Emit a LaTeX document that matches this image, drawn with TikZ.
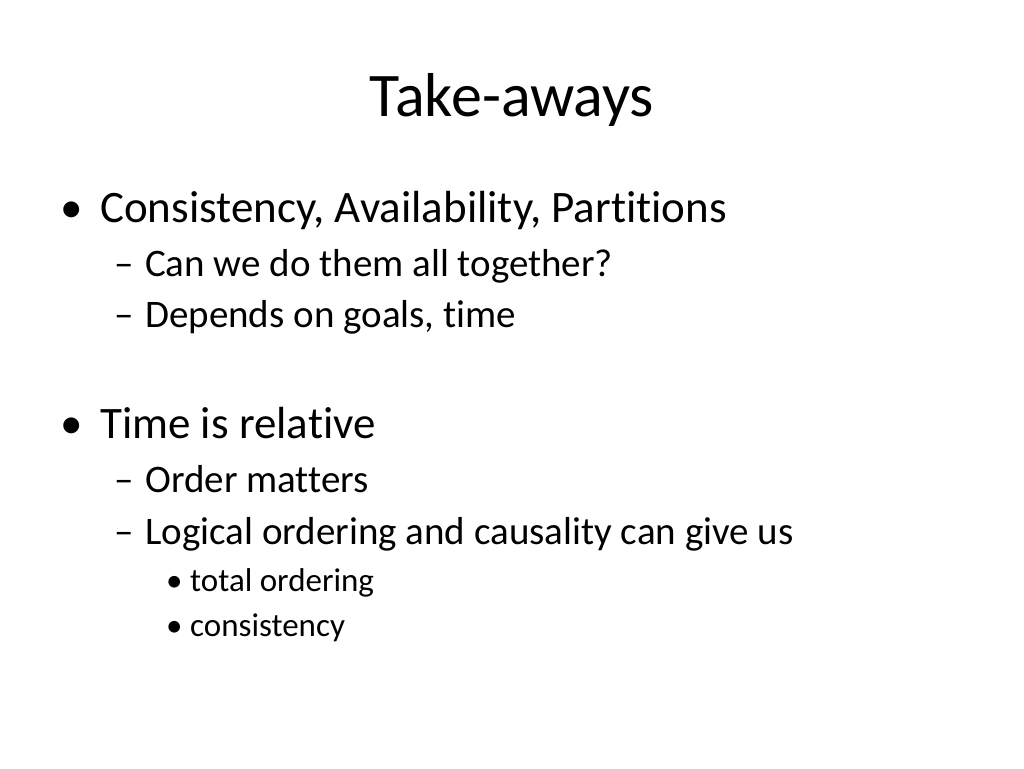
\documentclass[tikz,border=0pt]{standalone}
\usepackage{fontspec}
\setmainfont[Ligatures=NoCommon]{Carlito}
\begin{document}
\begin{tikzpicture}[x=1pt,y=-1pt,
  t/.style={anchor=base west,inner sep=0pt,text=black},
  l1/.style={t,font=\fontsize{45}{54}\selectfont},
  l2/.style={t,font=\fontsize{39}{47}\selectfont},
  l3/.style={t,font=\fontsize{33}{40}\selectfont}]
\useasboundingbox (0,0) rectangle (1024,768);
\node[anchor=base,inner sep=0pt,font=\fontsize{62}{74}\selectfont] (title) at (512,116) {Take-aways};
\node[l1] (b1) at (60,222) {•};
\node[l1] (a1) at (100,222) {Consistency, Availability, Partitions};
\node[l2] (d1) at (114,276) {–};
\node[l2] (a2) at (145,276) {Can we do them all together?};
\node[l2] (d2) at (114,327) {–};
\node[l2] (a3) at (145,327) {Depends on goals, time};
\node[l1] (b2) at (60,438) {•};
\node[l1] (a4) at (100,438) {Time is relative};
\node[l2] (d3) at (114,492) {–};
\node[l2] (a5) at (145,492) {Order matters};
\node[l2] (d4) at (114,544) {–};
\node[l2] (a6) at (145,544) {Logical ordering and causality can give us};
\node[l3] (b3) at (166,591) {•};
\node[l3] (a7) at (190,591) {total ordering};
\node[l3] (b4) at (166,636) {•};
\node[l3] (a8) at (190,636) {consistency};
\end{tikzpicture}
\end{document}
